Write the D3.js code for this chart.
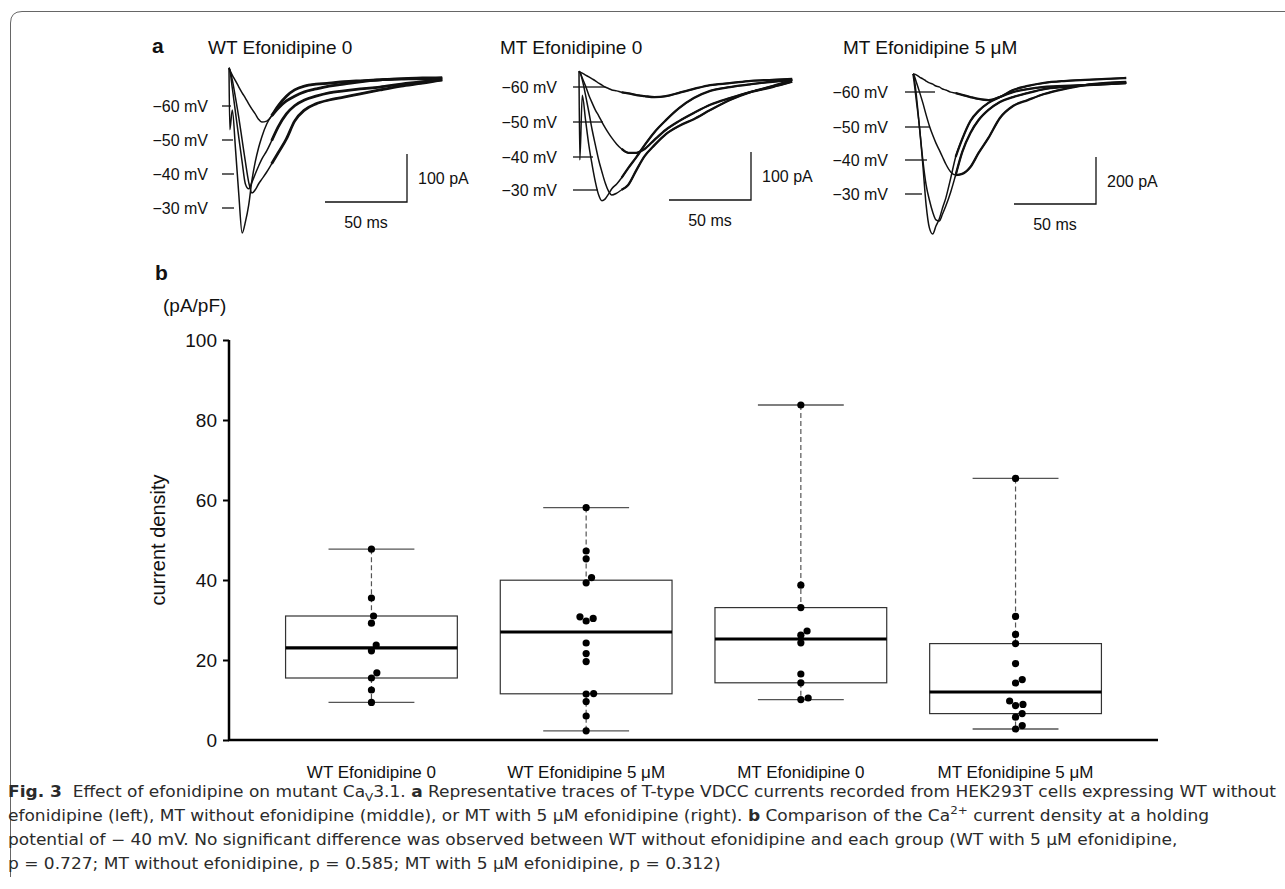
<!DOCTYPE html>
<html>
<head>
<meta charset="utf-8">
<script src="https://cdn.jsdelivr.net/npm/d3@7"></script>
<style>
  body { margin: 0; background: #fff; }
  svg { display: block; }
  text { font-family: "Liberation Sans", Arial, sans-serif; fill: #111; }
  .caption text { font-family: "DejaVu Sans Condensed", "DejaVu Sans", sans-serif; font-stretch: condensed; fill: #2b2b2b; white-space: pre; }
</style>
</head>
<body>
<script>

/* ---------- panel b : current density (pA/pF), one dot per cell ---------- */
const groups = ["WT Efonidipine 0", "WT Efonidipine 5 μM", "MT Efonidipine 0", "MT Efonidipine 5 μM"];
const wt0 = [47.7, 35.5, 31.0, 29.2, 23.75, 22.3, 16.8, 15.5, 12.5, 9.4];
const wt5 = [58.1, 47.25, 45.3, 40.6, 39.3, 30.8, 30.4, 29.75, 24.25, 21.6, 19.6, 11.6, 11.5, 9.6, 6.0, 2.3];
const mt0 = [83.75, 38.7, 33.1, 27.25, 26.2, 24.3, 16.5, 14.3, 10.5, 10.1];
const mt5 = [65.4, 30.9, 26.4, 24.1, 19.1, 15.1, 14.25, 9.75, 8.9, 8.6, 6.6, 5.7, 3.6, 2.75];
const yTicks = [0, 20, 40, 60, 80, 100];

/* ---------- panel a : representative traces (time in ms, current in pA) ---------- */
const traceTitles = ["WT Efonidipine 0", "MT Efonidipine 0", "MT Efonidipine 5 μM"];
const voltages = ["−60 mV", "−50 mV", "−40 mV", "−30 mV"];
const barCurrent = [100, 100, 200];
const barTime = 50;
const timeGrid = [0, 0.5, 2, 4, 6, 8, 10, 12, 14, 16, 18, 20, 23, 26, 30, 35, 40, 46, 53, 61, 70, 80, 92, 105, 118, 130];

// WT, efonidipine 0
const wt0m60 = [17, 12.5, 2, -10, -23, -35, -46, -58, -69, -79, -90, -96, -94, -83, -62, -42, -29, -21, -17, -15, -12, -10, -8, -6, -6, -4];
const wt0m50 = [17, 12.5, -8, -46, -87, -133, -179, -221, -244, -237, -225, -215, -200, -183, -160, -131, -94, -71, -58, -50, -44, -37, -29, -21, -15, -8];
const wt0m40 = [17, 12.5, -25, -77, -129, -179, -225, -235, -221, -204, -188, -173, -156, -135, -106, -79, -62, -50, -42, -35, -31, -27, -23, -17, -12, -8];
const wt0m30 = [15, -112, -71, -154, -248, -327, -304, -269, -217, -179, -150, -127, -100, -83, -67, -52, -42, -33, -27, -21, -17, -12, -8, -6, -4, -4];

// MT, efonidipine 0
const mt0m60 = [10, 8, 6, 2, -2, -6, -10, -15, -19, -23, -26, -29, -31, -34, -36, -40, -42, -44, -42, -35, -27, -19, -15, -10, -8, -6];
const mt0m50 = [10, 8, -4, -21, -40, -56, -71, -83, -96, -108, -119, -129, -142, -152, -160, -160, -152, -133, -112, -94, -77, -60, -46, -33, -23, -12];
const mt0m40 = [10, 8, -8, -40, -75, -112, -144, -175, -200, -223, -240, -248, -244, -237, -227, -196, -167, -144, -121, -104, -90, -71, -50, -33, -21, -8];
const mt0m30 = [10, -175, -40, -92, -144, -185, -221, -248, -260, -256, -246, -235, -225, -212, -192, -169, -144, -117, -92, -67, -46, -31, -23, -17, -12, -8];

// MT, efonidipine 5 μM
const mt5m60 = [17, 17, 13, 4, -4, -13, -21, -26, -34, -38, -47, -51, -60, -64, -72, -81, -89, -94, -81, -51, -34, -21, -13, -8, -4, 0];
const mt5m50 = [17, 13, -17, -60, -106, -157, -204, -243, -277, -306, -336, -366, -400, -413, -408, -379, -319, -255, -170, -119, -94, -68, -47, -30, -21, -17];
const mt5m40 = [17, 8, -72, -213, -349, -455, -519, -570, -604, -609, -579, -545, -485, -413, -315, -234, -179, -136, -102, -81, -64, -47, -38, -30, -26, -21];
const mt5m30 = [17, -8, -94, -213, -370, -540, -638, -664, -630, -600, -553, -511, -426, -336, -260, -183, -140, -106, -81, -60, -47, -38, -34, -30, -26, -21];

const traceSets = [
	[wt0m60, wt0m50, wt0m40, wt0m30],
	[mt0m60, mt0m50, mt0m40, mt0m30],
	[mt5m60, mt5m50, mt5m40, mt5m30]
];


const W = 1285, H = 889;
const svg = d3.select('body').append('svg').attr('width', W).attr('height', H);

/* frame round the figure */
svg.append('path')
	.attr('d', 'M1285,11.5 H22 Q10.5,11.5 10.5,23 V877')
	.attr('fill', 'none')
	.attr('stroke', '#666')
	.attr('stroke-width', 1);


/* ================= panel a ================= */
const MS_PX = 1.64; // 50 ms = 82 px in every panel
const panelLayout = [
	{ x0: 229, y0: 76, k: 0.48, noise: 2.8, titleX: 208, labelX: 208, tickX: 222, tickEnd: [231, 233, 234, 234], labelY: [106, 140, 174, 208], barX: 407, barY: 202 },
	{ x0: 579, y0: 76, k: 0.48, noise: 2.3, titleX: 500, labelX: 557, tickX: 573, tickEnd: [605, 603, 593, 598], labelY: [87, 122, 157, 190], barX: 751, barY: 200 },
	{ x0: 913, y0: 78, k: 0.235, noise: 2.3, titleX: 843, labelX: 888, tickX: 905, tickEnd: [935, 930, 927, 922], labelY: [92, 127, 160, 194], barX: 1096, barY: 204 }
];

svg.append('text')
	.attr('x', 152).attr('y', 53)
	.attr('font-size', 21).attr('font-weight', 'bold')
	.text('a');

panelLayout.forEach((p, pi) => {
	const g = svg.append('g').attr('class', 'trace-panel');
	const tMax = d3.max(timeGrid);
	const x = d3.scaleLinear().domain([0, tMax]).range([p.x0, p.x0 + tMax * MS_PX]);
	const y = d3.scaleLinear().domain([0, -1000]).range([p.y0, p.y0 + 1000 * p.k]);

	g.append('text')
		.attr('x', p.titleX).attr('y', 54)
		.attr('font-size', 19)
		.text(traceTitles[pi]);

	// voltage labels + pointer lines
	voltages.forEach((v, vi) => {
		g.append('text')
			.attr('x', p.labelX).attr('y', p.labelY[vi] + 6)
			.attr('text-anchor', 'end')
			.attr('font-size', 16)
			.text(v);
		g.append('line')
			.attr('x1', p.tickX).attr('x2', p.tickEnd[vi])
			.attr('y1', p.labelY[vi]).attr('y2', p.labelY[vi])
			.attr('stroke', '#111').attr('stroke-width', 1.3);
	});

	const line = d3.line()
		.x(d => x(d[0]))
		.y(d => y(d[1]))
		.curve(d3.curveMonotoneX);

	const series = traceSets[pi].map(cur => cur.map((c, i) => [timeGrid[i], c]));

	g.selectAll('path.trace')
		.data(series)
		.enter().append('path')
		.attr('class', 'trace')
		.attr('d', line)
		.attr('fill', 'none')
		.attr('stroke', '#111')
		.attr('stroke-width', 1.5)
		.attr('stroke-linejoin', 'round');

	// recorded noise makes the slow tails look thicker
	g.selectAll('path.tail')
		.data(series.map(s => s.filter(d => d[0] >= 26)))
		.enter().append('path')
		.attr('class', 'tail')
		.attr('d', line)
		.attr('fill', 'none')
		.attr('stroke', '#111')
		.attr('stroke-width', p.noise)
		.attr('stroke-linejoin', 'round');

	// scale bar
	const hLen = x(barTime) - x(0);
	const vLen = y(-barCurrent[pi]) - y(0);
	g.append('path')
		.attr('d', `M${p.barX - hLen},${p.barY} H${p.barX} V${p.barY - vLen}`)
		.attr('fill', 'none').attr('stroke', '#111').attr('stroke-width', 1.3);
	g.append('text')
		.attr('x', p.barX + 11).attr('y', p.barY - vLen / 2 + 6)
		.attr('font-size', 16)
		.text(barCurrent[pi] + ' pA');
	g.append('text')
		.attr('x', p.barX - hLen / 2).attr('y', p.barY + 26)
		.attr('text-anchor', 'middle')
		.attr('font-size', 16)
		.text(barTime + ' ms');
});


/* ================= panel b ================= */
const plot = { left: 229, right: 1158, top: 340, bottom: 740 };

const xBand = d3.scaleBand()
	.domain(groups)
	.range([plot.left, plot.right])
	.paddingInner(0.2)
	.paddingOuter(0.2635);
const yLin = d3.scaleLinear().domain([0, 100]).range([plot.bottom, plot.top]);

svg.append('text')
	.attr('x', 155).attr('y', 280)
	.attr('font-size', 21).attr('font-weight', 'bold')
	.text('b');
svg.append('text')
	.attr('x', 163).attr('y', 312)
	.attr('font-size', 19)
	.text('(pA/pF)');
svg.append('text')
	.attr('transform', 'translate(165,540) rotate(-90)')
	.attr('text-anchor', 'middle')
	.attr('font-size', 20)
	.text('current density');

// Tukey five-number summary (same hinges as R's boxplot)
function fivenum(values) {
	const s = values.slice().sort(d3.ascending), n = s.length;
	const n4 = Math.floor((n + 3) / 2) / 2;
	return [1, n4, (n + 1) / 2, n + 1 - n4, n]
		.map(k => 0.5 * (s[Math.floor(k) - 1] + s[Math.ceil(k) - 1]));
}

// simple beeswarm: lower values placed first, shifted sideways on overlap
function swarm(values, D) {
	const placed = [];
	values.map(v => ({ v: v, y: yLin(v) }))
		.sort((a, b) => a.v - b.v)
		.forEach(pt => {
			const near = placed.filter(q => Math.abs(q.y - pt.y) < D);
			const cands = [0];
			near.forEach(q => {
				const dx = Math.sqrt(D * D - (q.y - pt.y) ** 2);
				cands.push(q.dx + dx, q.dx - dx);
			});
			const ok = cands.filter(c => near.every(q => (q.dx - c) ** 2 + (q.y - pt.y) ** 2 >= D * D - 0.01));
			ok.sort((a, b) => Math.abs(a) - Math.abs(b) || b - a);
			pt.dx = ok[0];
			placed.push(pt);
		});
	return placed;
}

const densities = [wt0, wt5, mt0, mt5];
const boxG = svg.append('g').attr('class', 'boxes');

densities.forEach((vals, i) => {
	const [lo, q1, med, q3, hi] = fivenum(vals);
	const bx = xBand(groups[i]);
	const bw = xBand.bandwidth();
	const cx = bx + bw / 2;
	const capW = bw / 2;
	const g = boxG.append('g');

	// whiskers (dashed)
	g.append('line')
		.attr('x1', cx).attr('x2', cx).attr('y1', yLin(hi)).attr('y2', yLin(q3))
		.attr('stroke', '#555').attr('stroke-width', 1.2).attr('stroke-dasharray', '5,3');
	g.append('line')
		.attr('x1', cx).attr('x2', cx).attr('y1', yLin(q1)).attr('y2', yLin(lo))
		.attr('stroke', '#555').attr('stroke-width', 1.2).attr('stroke-dasharray', '5,3');
	// caps
	[lo, hi].forEach(v => {
		g.append('line')
			.attr('x1', cx - capW / 2).attr('x2', cx + capW / 2)
			.attr('y1', yLin(v)).attr('y2', yLin(v))
			.attr('stroke', '#555').attr('stroke-width', 1.3);
	});
	// box
	g.append('rect')
		.attr('x', bx).attr('y', yLin(q3))
		.attr('width', bw).attr('height', yLin(q1) - yLin(q3))
		.attr('fill', 'none').attr('stroke', '#333').attr('stroke-width', 1.2);
	g.append('line')
		.attr('x1', bx).attr('x2', bx + bw)
		.attr('y1', yLin(med)).attr('y2', yLin(med))
		.attr('stroke', '#000').attr('stroke-width', 3.2);

	// dots
	g.selectAll('circle')
		.data(swarm(vals, 7.5))
		.enter().append('circle')
		.attr('cx', d => cx + d.dx)
		.attr('cy', d => d.y)
		.attr('r', 3.6)
		.attr('fill', '#000');
});

// axes
const yAxis = svg.append('g')
	.attr('transform', `translate(${plot.left},0)`)
	.call(d3.axisLeft(yLin).tickValues(yTicks).tickSize(6).tickPadding(6));
yAxis.select('.domain').attr('stroke-width', 2.5).attr('d', `M0,${plot.top}V${plot.bottom}`);
yAxis.selectAll('.tick line').attr('stroke-width', 2);
yAxis.selectAll('.tick text').attr('font-size', 19).attr('font-family', '"Liberation Sans", Arial, sans-serif').attr('fill', '#111');

svg.append('line')
	.attr('x1', plot.left - 1).attr('x2', plot.right)
	.attr('y1', plot.bottom).attr('y2', plot.bottom)
	.attr('stroke', '#000').attr('stroke-width', 2.5);

svg.append('g').selectAll('text')
	.data(groups)
	.enter().append('text')
	.attr('x', d => xBand(d) + xBand.bandwidth() / 2)
	.attr('y', 778)
	.attr('text-anchor', 'middle')
	.attr('font-size', 17)
	.text(d => d);


/* ================= caption ================= */
const cap = svg.append('g').attr('class', 'caption').attr('font-size', 15);
const CAP_X = 8, CAP_LINE1_W = 1268;
const capLines = [
	[['Fig. 3', 'b'], ['  Effect of efonidipine on mutant Ca'], ['V', 'sub'], ['3.1. '], ['a', 'b'], [' Representative traces of T-type VDCC currents recorded from HEK293T cells expressing WT without']],
	[['efonidipine (left), MT without efonidipine (middle), or MT with 5 μM efonidipine (right). '], ['b', 'b'], [' Comparison of the Ca'], ['2+', 'sup'], [' current density at a holding']],
	[['potential of − 40 mV. No significant difference was observed between WT without efonidipine and each group (WT with 5 μM efonidipine,']],
	[['p = 0.727; MT without efonidipine, p = 0.585; MT with 5 μM efonidipine, p = 0.312)']]
];

const capTexts = capLines.map((parts, li) => {
	const t = cap.append('text')
		.attr('x', CAP_X).attr('y', 797 + li * 24);
	let shift = 0;
	parts.forEach(([s, kind]) => {
		const ts = t.append('tspan').text(s);
		if (kind === 'b') ts.attr('font-weight', 'bold');
		let want = 0;
		if (kind === 'sub') { ts.attr('font-size', 10.5); want = 4; }
		if (kind === 'sup') { ts.attr('font-size', 10.5); want = -7; }
		if (want !== shift) { ts.attr('dy', want - shift); shift = want; }
	});
	return t;
});

// the printed caption uses a condensed face: squeeze every line by the same factor
const natural = capTexts.map(t => t.node().getComputedTextLength());
const squeeze = CAP_LINE1_W / natural[0];
capTexts.forEach((t, i) => {
	t.attr('textLength', natural[i] * squeeze).attr('lengthAdjust', 'spacingAndGlyphs');
});

</script>
</body>
</html>
